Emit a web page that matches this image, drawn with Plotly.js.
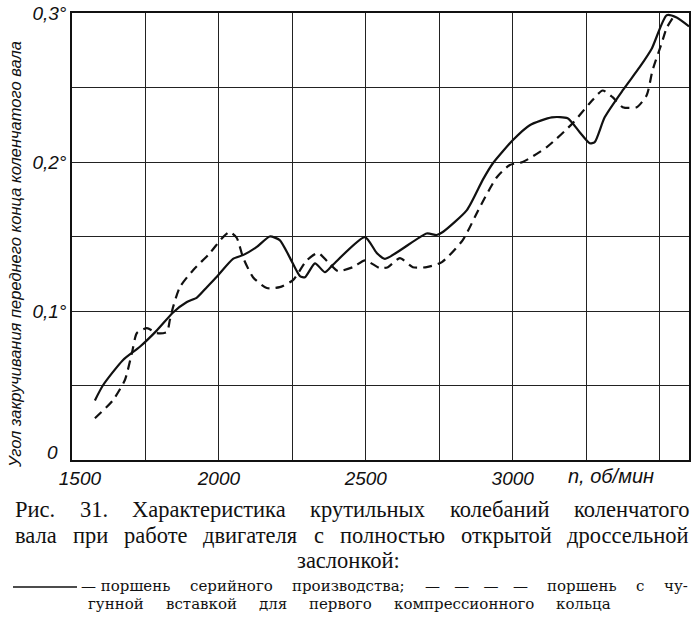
<!DOCTYPE html>
<html>
<head>
<meta charset="utf-8">
<script src="https://cdn.plot.ly/plotly-3.0.1.min.js"></script>
<style>
  html, body { margin: 0; padding: 0; background: #fff; }
  #chart { width: 700px; height: 620px; }
</style>
</head>
<body>
<div id="chart"></div>
<script>
// ---- data ----
const rpmSerial = [1578, 1605, 1673, 1731, 1789, 1844, 1891, 1925, 1959, 1993, 2048, 2082, 2129, 2173, 2207, 2241, 2276, 2293, 2327, 2361, 2388, 2497, 2537, 2565, 2707, 2741, 2762, 2844, 2898, 2932, 3000, 3058, 3133, 3187, 3228, 3262, 3279, 3313, 3374, 3432, 3473, 3524, 3558, 3600];
const angSerial = [0.040, 0.050, 0.067, 0.076, 0.087, 0.099, 0.106, 0.109, 0.116, 0.123, 0.135, 0.1375, 0.143, 0.150, 0.1476, 0.136, 0.1234, 0.1227, 0.132, 0.126, 0.131, 0.1496, 0.139, 0.135, 0.152, 0.151, 0.153, 0.1677, 0.188, 0.199, 0.2146, 0.2247, 0.230, 0.2294, 0.220, 0.2126, 0.2133, 0.230, 0.248, 0.2636, 0.276, 0.2985, 0.297, 0.291];

const rpmInsert = [1578, 1639, 1680, 1704, 1721, 1755, 1789, 1823, 1833, 1844, 1867, 1912, 1969, 2014, 2037, 2061, 2082, 2116, 2163, 2207, 2252, 2299, 2337, 2371, 2405, 2456, 2497, 2548, 2575, 2616, 2660, 2707, 2759, 2830, 2888, 2946, 2990, 3034, 3116, 3204, 3262, 3306, 3340, 3374, 3422, 3456, 3476, 3507, 3524, 3551];
const angInsert = [0.028, 0.040, 0.0537, 0.0718, 0.0852, 0.0885, 0.0852, 0.0859, 0.0939, 0.1026, 0.116, 0.1274, 0.1388, 0.1496, 0.153, 0.149, 0.136, 0.1227, 0.1154, 0.116, 0.1207, 0.134, 0.139, 0.133, 0.1268, 0.1294, 0.134, 0.1288, 0.1294, 0.1355, 0.1294, 0.1294, 0.1328, 0.1476, 0.1697, 0.1898, 0.198, 0.200, 0.210, 0.226, 0.2394, 0.248, 0.2435, 0.2368, 0.2368, 0.2448, 0.2616, 0.2797, 0.290, 0.2985];

const xTickVals = [1500, 1750, 2000, 2250, 2500, 2750, 3000, 3250, 3500];
const xTickText = ['\u00a0\u00a0\u00a01500', '', '2000', '', '2500', '', '3000', '', ''];
const yTickVals = [0, 0.05, 0.1, 0.15, 0.2, 0.25, 0.3];
const yTickText = ['', '', '0,1°', '', '0,2°', '', '0,3°'];
const yZeroLabel = '0';

const yTitle = 'Угол закручивания переднего конца коленчатого вала';
const xUnit = 'n, об/мин';
const caption1 = 'Рис. 31. Характеристика крутильных колебаний коленчатого';
const caption2 = 'вала при работе двигателя с полностью открытой дроссельной';
const caption3 = 'заслонкой:';
const legend1 = ['—\u00a0поршень', 'серийного', 'производства;', '—\u00a0\u00a0\u00a0—\u00a0\u00a0\u00a0—\u00a0\u00a0\u00a0—', 'поршень', 'с', 'чу-'];
const legend2 = 'гунной вставкой для первого компрессионного кольца';

// ---- layout helpers ----
const W = 700, H = 620;
const M = {l: 72, r: 11, t: 13, b: 160};
const pw = W - M.l - M.r, ph = H - M.t - M.b;
const px = x => (x - M.l) / pw;
const py = y => (H - M.b - y) / ph;

const sans = 'Liberation Sans, Arial, sans-serif';
const serif = 'Liberation Serif, Times New Roman, serif';
const serif2 = 'DejaVu Serif, Liberation Serif, serif';

const ctx = document.createElement('canvas').getContext('2d');
function justify(line, family, size, x0, x1, yPix) {
  const words = Array.isArray(line) ? line : line.split(' ');
  ctx.font = size + 'px ' + family.split(',').map(f => '"' + f.trim() + '"').join(', ');
  const widths = words.map(w => ctx.measureText(w).width);
  const total = widths.reduce((a, b) => a + b, 0);
  const gap = words.length > 1 ? (x1 - x0 - total) / (words.length - 1) : 0;
  let x = x0;
  return words.map((w, i) => {
    const a = {text: w, xref: 'paper', yref: 'paper', x: px(x), y: py(yPix),
      xanchor: 'left', yanchor: 'middle', showarrow: false, borderpad: 0,
      font: {family: family, size: size, color: '#111'}};
    x += widths[i] + gap;
    return a;
  });
}

const traces = [
  {x: rpmSerial, y: angSerial, mode: 'lines', type: 'scatter',
   line: {color: '#111', width: 2.2, shape: 'spline', smoothing: 0.6}},
  {x: rpmInsert, y: angInsert, mode: 'lines', type: 'scatter',
   line: {color: '#111', width: 2.2, dash: '9px,6px', shape: 'spline', smoothing: 0.6}}
];

const tickFont = {family: sans, size: 19, color: '#111', style: 'italic'};

const layout = {
  width: W, height: H,
  margin: M,
  paper_bgcolor: '#fff', plot_bgcolor: '#fff',
  showlegend: false,
  xaxis: {
    range: [1500, 3600], tickmode: 'array', tickvals: xTickVals, ticktext: xTickText,
    showgrid: true, gridcolor: '#222', gridwidth: 1, zeroline: false,
    showline: true, mirror: true, linecolor: '#111', linewidth: 1.8,
    ticks: '', fixedrange: true, tickfont: tickFont
  },
  yaxis: {
    range: [0, 0.3], tickmode: 'array', tickvals: yTickVals, ticktext: yTickText,
    showgrid: true, gridcolor: '#222', gridwidth: 1, zeroline: false,
    showline: true, mirror: true, linecolor: '#111', linewidth: 1.8,
    ticks: '', fixedrange: true, tickfont: tickFont
  },
  shapes: [
    {type: 'line', xref: 'paper', yref: 'paper', x0: px(13), x1: px(77), y0: py(587), y1: py(587),
     line: {color: '#111', width: 1.5}}
  ],
  annotations: [
    {text: yTitle, xref: 'paper', yref: 'paper', x: px(15), y: py(255),
     xanchor: 'center', yanchor: 'middle', textangle: -90, showarrow: false,
     font: {family: sans, size: 16.5, color: '#111', style: 'italic'}},
    {text: yZeroLabel, xref: 'paper', yref: 'paper', x: px(52), y: py(452),
     xanchor: 'center', yanchor: 'middle', showarrow: false, borderpad: 0,
     font: tickFont},
    {text: xUnit, xref: 'paper', yref: 'paper', x: px(566), y: py(476),
     xanchor: 'left', yanchor: 'middle', showarrow: false,
     font: {family: sans, size: 20, color: '#111', style: 'italic'}},
    ...justify(caption1, serif, 22.5, 14, 688, 510),
    ...justify(caption2, serif, 22.5, 14, 688, 535),
    {text: caption3, xref: 'paper', yref: 'paper', x: px(348), y: py(560),
     xanchor: 'center', yanchor: 'middle', showarrow: false, borderpad: 0,
     font: {family: serif, size: 22.5, color: '#111'}},
    ...justify(legend1, serif2, 15, 80, 687, 586),
    ...justify(legend2, serif2, 15, 87, 610, 604)
  ]
};

Plotly.newPlot('chart', traces, layout, {displayModeBar: false, staticPlot: true});
</script>
</body>
</html>
